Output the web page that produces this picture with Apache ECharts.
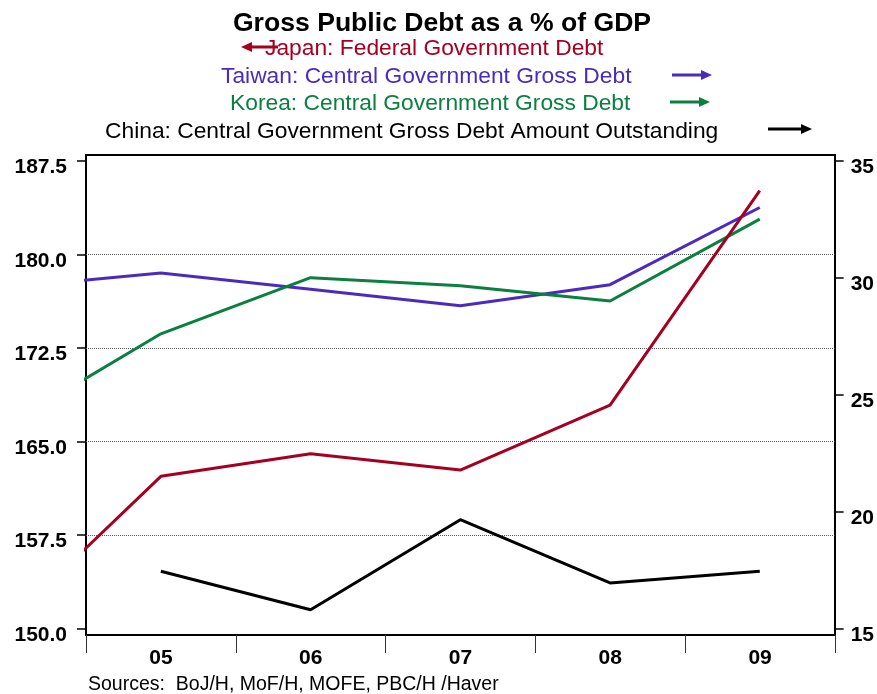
<!DOCTYPE html>
<html>
<head>
<meta charset="utf-8">
<script src="https://cdn.jsdelivr.net/npm/echarts@6/dist/echarts.min.js"></script>
<style>
  html, body { margin: 0; padding: 0; background: #fff; }
  #chart { width: 877px; height: 694px; }
</style>
</head>
<body>
<div id="chart"></div>
<script>
// year positions (04 only used so lines run in from the left edge)
const years = [4, 5, 6, 7, 8, 9];
const yearLabels = ['05', '06', '07', '08', '09'];
// left axis, % of GDP
const japan = [150.7, 162.2, 164.0, 162.7, 167.9, 185.1];
// right axis, % of GDP
const taiwan = [29.6, 30.2, 29.5, 28.8, 29.7, 33.0];
const korea = [23.8, 27.6, 30.0, 29.65, 29.0, 32.5];
const china = [null, 17.45, 15.8, 19.65, 16.95, 17.45];
const leftTicks = { min: 150, max: 187.5, step: 7.5 };
const rightTicks = { min: 15, max: 35, step: 5 };

const font = 'Liberation Sans, Arial, sans-serif';

function pairs(vals) {
    return years.map((y, i) => [y, vals[i]]);
}

function arrow(x1, x2, y, color, pointLeft) {
    const head = pointLeft ? x1 : x2;
    const dir = pointLeft ? 1 : -1;
    return {
        type: 'group',
        children: [
            {
                type: 'line',
                shape: { x1: pointLeft ? x1 + 6 : x1, y1: y, x2: pointLeft ? x2 : x2 - 6, y2: y },
                style: { stroke: color, lineWidth: 3 }
            },
            {
                type: 'polygon',
                shape: { points: [[head, y], [head + dir * 11, y - 5], [head + dir * 11, y + 5]] },
                style: { fill: color }
            }
        ]
    };
}

document.addEventListener('DOMContentLoaded', function () {
    const chart = echarts.init(document.getElementById('chart'));

    const legendText = (text, left, top, color) => ({
        text: text,
        left: left,
        top: top,
        textStyle: { color: color, fontFamily: font, fontSize: 22.8, fontWeight: 'normal' }
    });

    const option = {
        animation: false,
        backgroundColor: '#fff',
        title: [
            {
                text: 'Gross Public Debt as a % of GDP',
                left: 437,
                top: 5,
                textAlign: 'center',
                textStyle: { color: '#000', fontFamily: font, fontSize: 26.6, fontWeight: 'bold' }
            },
            legendText('Japan: Federal Government Debt', 260, 32, '#A50021'),
            legendText('Taiwan: Central Government Gross Debt', 216, 60, '#4B2BBE'),
            legendText('Korea: Central Government Gross Debt', 225, 87, '#0A7F3F'),
            legendText('China: Central Government Gross Debt Amount Outstanding', 100, 115, '#000'),
            {
                text: 'Sources:  BoJ/H, MoF/H, MOFE, PBC/H /Haver',
                left: 83,
                top: 670,
                textStyle: { color: '#000', fontFamily: font, fontSize: 19.5, fontWeight: 'normal' }
            }
        ],
        graphic: [
            arrow(241, 278, 47, '#A50021', true),
            arrow(672, 712, 75, '#4B2BBE', false),
            arrow(670, 710, 102, '#0A7F3F', false),
            arrow(768, 812, 129, '#000', false)
        ],
        grid: [
            // frame
            { left: 86, right: 42, top: 155, bottom: 59, show: true, borderColor: '#000', borderWidth: 2 },
            // data area
            { left: 86, right: 42, top: 160.7, bottom: 65.5 }
        ],
        xAxis: [
            {
                gridIndex: 0,
                type: 'category',
                data: yearLabels,
                boundaryGap: true,
                axisLine: { show: true, lineStyle: { color: '#000', width: 2 } },
                axisTick: { show: true, interval: 0, length: 18, lineStyle: { color: '#333', width: 1 } },
                axisLabel: { color: '#000', fontFamily: font, fontSize: 21, fontWeight: 'bold', margin: 13 }
            },
            { gridIndex: 1, type: 'value', min: 4.5, max: 9.5, show: false }
        ],
        yAxis: [
            { gridIndex: 0, type: 'value', show: false },
            {
                gridIndex: 1,
                type: 'value',
                position: 'left',
                min: leftTicks.min,
                max: leftTicks.max,
                interval: leftTicks.step,
                axisLine: { show: false },
                axisTick: { show: true, length: 9, lineStyle: { color: '#000', width: 1.5 } },
                axisLabel: {
                    color: '#000', fontFamily: font, fontSize: 21, fontWeight: 'bold', margin: 19,
                    verticalAlign: 'top', lineHeight: 13,
                    formatter: v => v.toFixed(1)
                },
                splitLine: {
                    show: true, showMinLine: false, showMaxLine: false,
                    lineStyle: { color: '#555', type: 'dotted', width: 1 }
                }
            },
            {
                gridIndex: 1,
                type: 'value',
                position: 'right',
                min: rightTicks.min,
                max: rightTicks.max,
                interval: rightTicks.step,
                axisLine: { show: false },
                axisTick: { show: true, length: 9, lineStyle: { color: '#000', width: 1.5 } },
                axisLabel: {
                    color: '#000', fontFamily: font, fontSize: 21, fontWeight: 'bold', margin: 16,
                    verticalAlign: 'top', lineHeight: 13
                },
                splitLine: { show: false }
            }
        ],
        series: [
            {
                name: 'Taiwan', type: 'line', xAxisIndex: 1, yAxisIndex: 2,
                symbol: 'none', lineStyle: { width: 3, color: '#4B2BBE' }, data: pairs(taiwan)
            },
            {
                name: 'Korea', type: 'line', xAxisIndex: 1, yAxisIndex: 2,
                symbol: 'none', lineStyle: { width: 3, color: '#0A7F3F' }, data: pairs(korea)
            },
            {
                name: 'China', type: 'line', xAxisIndex: 1, yAxisIndex: 2,
                symbol: 'none', lineStyle: { width: 3, color: '#000' }, data: pairs(china)
            },
            {
                name: 'Japan', type: 'line', xAxisIndex: 1, yAxisIndex: 1,
                symbol: 'none', lineStyle: { width: 3, color: '#A50021' }, data: pairs(japan)
            }
        ]
    };
    chart.setOption(option);
});
</script>
</body>
</html>
